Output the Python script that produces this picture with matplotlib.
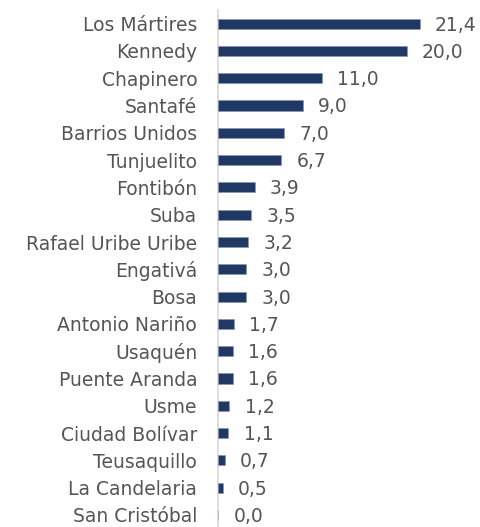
import matplotlib
matplotlib.use("Agg")
import matplotlib.pyplot as plt

localidades = ["Los Mártires", "Kennedy", "Chapinero", "Santafé", "Barrios Unidos",
               "Tunjuelito", "Fontibón", "Suba", "Rafael Uribe Uribe", "Engativá",
               "Bosa", "Antonio Nariño", "Usaquén", "Puente Aranda", "Usme",
               "Ciudad Bolívar", "Teusaquillo", "La Candelaria", "San Cristóbal"]
valores = [21.4, 20.0, 11.0, 9.0, 7.0, 6.7, 3.9, 3.5, 3.2, 3.0,
           3.0, 1.7, 1.6, 1.6, 1.2, 1.1, 0.7, 0.5, 0.0]

BAR = "#1F3864"
TXT = "#555555"

plt.rcParams["font.family"] = ["DejaVu Sans"]

W, H = 481, 527
fig = plt.figure(figsize=(W / 100, H / 100), dpi=100)
ax = fig.add_axes([218 / W, 0, 257 / W, 517 / H])

y = list(range(len(localidades)))
ax.barh(y, valores, height=0.37, color=BAR, edgecolor="#8497B0", linewidth=0.4, zorder=3)

for yi, v in zip(y, valores):
    ax.annotate(f"{v:.1f}".replace(".", ","), xy=(v, yi), xytext=(11, -1),
                textcoords="offset points", va="center", ha="left",
                fontsize=13.5, color=TXT)

ax.set_xlim(0, 27.25)
ax.set_ylim(18.44, -0.5)
ax.set_yticks(y)
ax.set_yticklabels(localidades, fontsize=13.5, color=TXT)
ax.tick_params(axis="y", length=0, pad=15)
ax.set_xticks([])
for s in ["top", "right", "bottom"]:
    ax.spines[s].set_visible(False)
ax.spines["left"].set_color("#D9D9D9")
ax.spines["left"].set_linewidth(1.2)

fig.savefig("out.png", dpi=100, facecolor="white")
